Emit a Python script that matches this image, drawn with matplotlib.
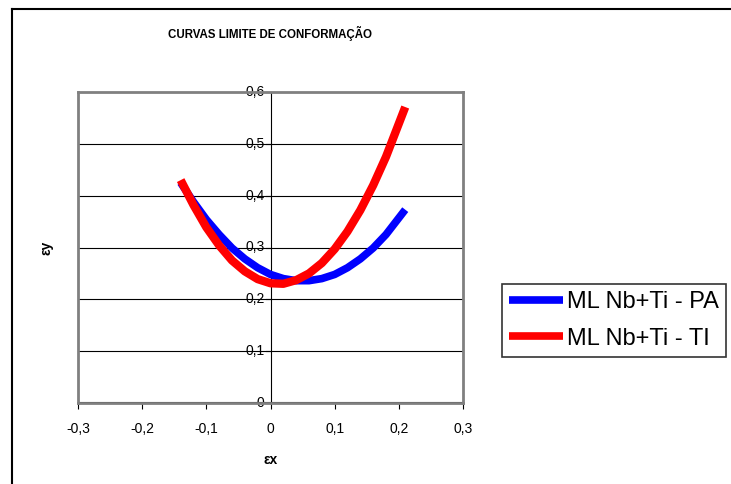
import matplotlib
matplotlib.use("Agg")
import matplotlib.pyplot as plt
from matplotlib.lines import Line2D

plt.rcParams["font.family"] = ["Liberation Sans", "DejaVu Sans"]

# valores (εx, εy)
EX_PA = [-0.14, -0.12, -0.10, -0.08, -0.06, -0.04, -0.02, 0.00, 0.02, 0.04,
         0.06, 0.08, 0.10, 0.12, 0.14, 0.16, 0.18, 0.21]
EY_PA = [0.425, 0.388, 0.354, 0.325, 0.299, 0.278, 0.261, 0.248, 0.240, 0.236,
         0.236, 0.240, 0.248, 0.261, 0.278, 0.299, 0.325, 0.373]
EX_TI = [-0.14, -0.12, -0.10, -0.08, -0.06, -0.04, -0.02, 0.00, 0.02, 0.04,
         0.06, 0.08, 0.10, 0.12, 0.14, 0.16, 0.18, 0.21]
EY_TI = [0.430, 0.382, 0.339, 0.304, 0.275, 0.254, 0.239, 0.231, 0.230, 0.237,
         0.250, 0.270, 0.297, 0.331, 0.372, 0.420, 0.475, 0.571]
LABELS = ["ML Nb+Ti - PA", "ML Nb+Ti - TI"]
XTICKS = [-0.3, -0.2, -0.1, 0.0, 0.1, 0.2, 0.3]
YTICKS = [0.0, 0.1, 0.2, 0.3, 0.4, 0.5, 0.6]


def fmt(v):
    s = f"{v:.1f}".replace(".", ",")
    return "0" if s in ("0,0", "-0,0") else s


fig = plt.figure(figsize=(7.31, 4.84), dpi=100)
ax = fig.add_axes([78 / 731, 1 - 403 / 484, (463 - 78) / 731, (403 - 92) / 484])

# moldura externa (só esquerda e topo visíveis)
fig.add_artist(Line2D([12 / 731, 12 / 731], [0, 1 - 9 / 484], color="black", lw=1.5))
fig.add_artist(Line2D([12 / 731, 1], [1 - 9 / 484, 1 - 9 / 484], color="black", lw=1.5))

l1, = ax.plot(EX_PA, EY_PA, color="#0000ff", lw=5.5, solid_capstyle="butt",
              solid_joinstyle="round", zorder=3)
l2, = ax.plot(EX_TI, EY_TI, color="#ff0000", lw=6, solid_capstyle="butt",
              solid_joinstyle="round", zorder=4)

ax.set_xlim(-0.3, 0.3)
ax.set_ylim(0, 0.6)
for v in YTICKS[1:-1]:
    ax.axhline(v, color="black", lw=0.8, zorder=1)
for s in ax.spines.values():
    s.set_color("#808080")
    s.set_linewidth(2)

# eixos cruzando em zero
ax.axvline(0, color="black", lw=0.8, zorder=2)
ax.axhline(0, color="black", lw=1.5, zorder=2)

ax.set_xticks(XTICKS)
ax.set_xticklabels([fmt(v) for v in XTICKS], fontsize=10)
ax.tick_params(axis="x", direction="out", length=4, color="black", pad=10)
ax.set_yticks([])
for v in YTICKS:
    ax.plot([-0.007, 0], [v, v], color="black", lw=0.8, clip_on=False, zorder=2)
    ax.text(-0.009, v, fmt(v), ha="right", va="center", fontsize=10, zorder=2)

ax.set_xlabel("εx", fontsize=10, fontweight="bold", labelpad=12)
fig.text(47 / 731, 1 - 248 / 484, "εy", rotation=90, ha="center", va="center",
         fontsize=10, fontweight="bold")
fig.text(270 / 731, 1 - 33 / 484, "CURVAS LIMITE DE CONFORMAÇÃO", ha="center",
         va="center", fontsize=8.3, fontweight="bold")

leg = fig.legend([l1, l2], LABELS, loc="upper left",
                 bbox_to_anchor=(502 / 731, 1 - 284 / 484), fontsize=17,
                 frameon=True, fancybox=False, edgecolor="black",
                 handlelength=2.3, handletextpad=0.15, borderpad=0.3,
                 labelspacing=0.62, borderaxespad=0, handleheight=0.7)
leg.get_frame().set_linewidth(1.2)
for h in leg.get_lines():
    h.set_linewidth(5.5)

fig.savefig("out.png", dpi=100)
